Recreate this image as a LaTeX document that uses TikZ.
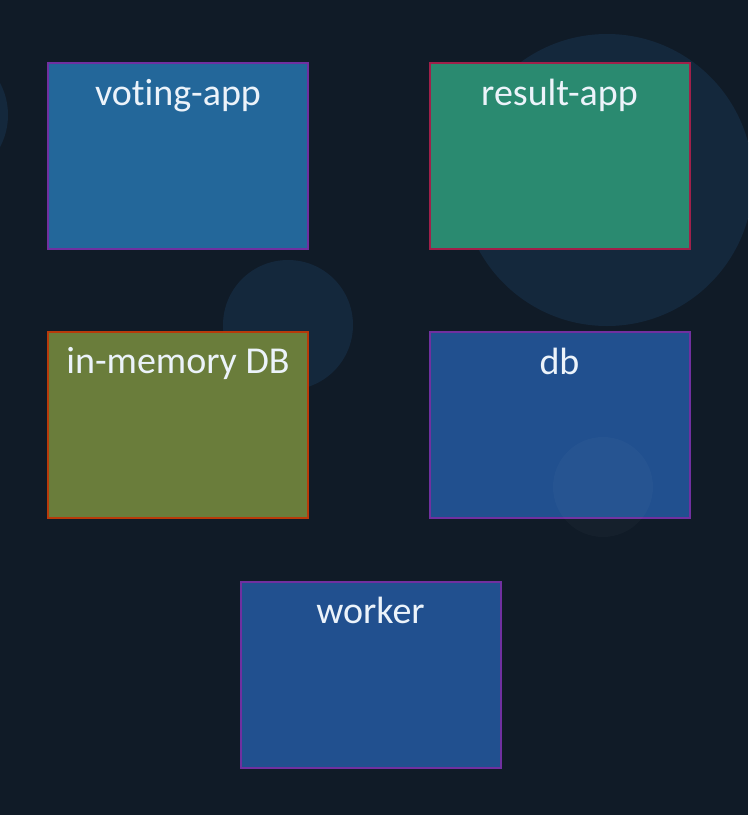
\documentclass[tikz,border=0pt]{standalone}
\usepackage{fontspec}
\setmainfont[Ligatures=NoCommon]{Carlito}
\usepackage{tikz}
\usetikzlibrary{positioning}
\definecolor{bgdark}{HTML}{101B27}
\definecolor{circdark}{HTML}{1A3A5A}
\definecolor{votefill}{HTML}{23679A}
\definecolor{resfill}{HTML}{2A8A70}
\definecolor{memfill}{HTML}{6A7D3B}
\definecolor{dbfill}{HTML}{21508F}
\definecolor{purpleedge}{HTML}{7030A0}
\definecolor{rededge}{HTML}{A0204A}
\definecolor{orangeedge}{HTML}{B83A0A}
\definecolor{labtext}{HTML}{ECF3FA}
\tikzset{every node/.append style={transform shape=false}}
\tikzset{box/.style={draw, line width=2pt, minimum width=260pt, minimum height=186pt, inner sep=0pt}}
\tikzset{lab/.style={anchor=base, text=labtext, font=\fontsize{38}{45}\selectfont, inner sep=0pt}}
\tikzset{bubble/.style={fill=circdark, opacity=0.42}}

\begin{document}
\begin{tikzpicture}[x=1pt,y=-1pt]
  \useasboundingbox (0,0) rectangle (748,815);
  \clip (0,0) rectangle (748,815);
  \fill[bgdark] (0,0) rectangle (748,815);

  % faint circles behind the boxes
  \fill[bubble] (607,180) circle (146);
  \fill[bubble] (288,325) circle (65);
  \fill[bubble] (-60,115) circle (68);

  \node[box, draw=purpleedge, fill=votefill] (vote) at (178,156) {};
  \node[box, draw=rededge, fill=resfill] (result) at (559.5,156) {};
  \node[box, draw=orangeedge, fill=memfill] (redis) at (178,424.5) {};
  \node[box, draw=purpleedge, fill=dbfill] (db) at (559.5,425) {};
  \node[box, draw=purpleedge, fill=dbfill] (worker) at (370.5,674.5) {};

  % circle over the db box
  \fill[white, opacity=0.025] (603,487) circle (50);

  \node[lab] (votelab) at ([yshift=-43pt]vote.north) {voting-app};
  \node[lab] (resultlab) at ([yshift=-43pt]result.north) {result-app};
  \node[lab] (redislab) at ([yshift=-43pt]redis.north) {in-memory DB};
  \node[lab] (dblab) at ([yshift=-43pt]db.north) {db};
  \node[lab] (workerlab) at ([yshift=-43pt]worker.north) {worker};
\end{tikzpicture}
\end{document}
